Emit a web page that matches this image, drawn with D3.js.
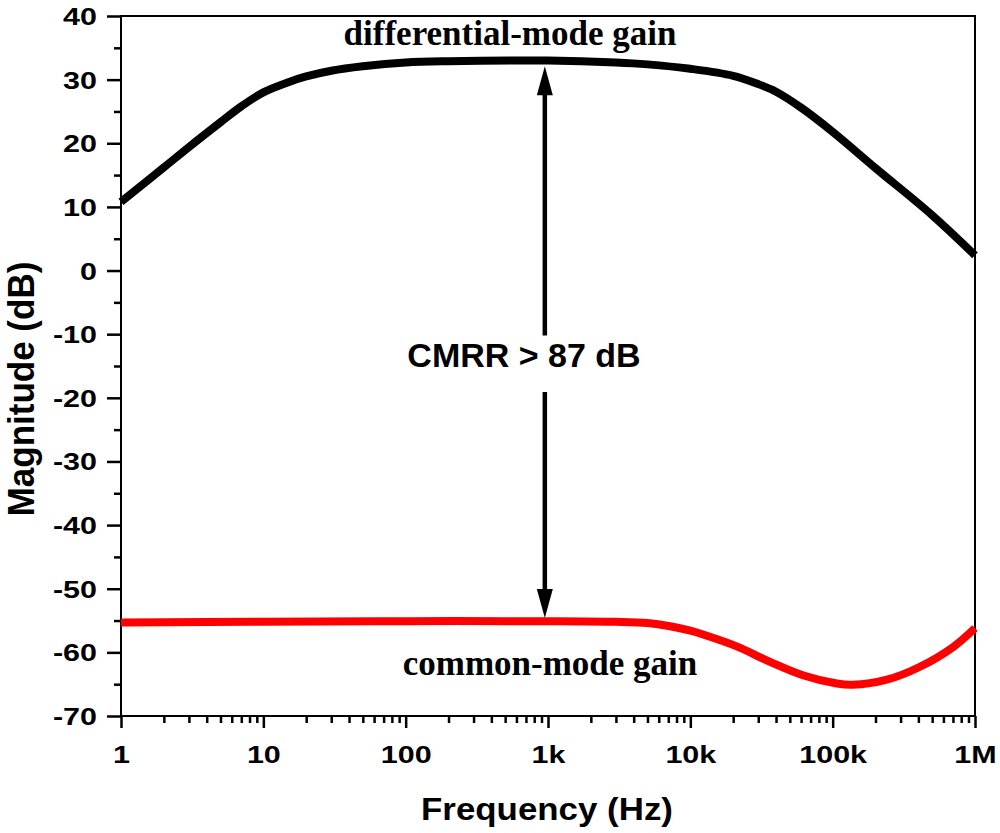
<!DOCTYPE html>
<html>
<head>
<meta charset="utf-8">
<script src="https://cdn.jsdelivr.net/npm/d3@7"></script>
<style>
  body { margin: 0; background: #fff; }
  svg { display: block; }
  .tick line { stroke: #000; stroke-width: 2.5; }
  .lbl { font-family: "Liberation Sans", Arial, sans-serif; font-weight: bold; fill: #000; }
  .note { font-family: "Liberation Serif", "Times New Roman", serif; font-weight: bold; fill: #000; }
</style>
</head>
<body>
<div id="chart"></div>
<script>
// -------------------------------
// Data
// -------------------------------
const diffFreq = [1, 2, 3, 5, 7, 10, 15, 20, 30, 50, 100, 200, 1000, 3000, 5000, 10000, 20000, 30000, 40000, 60000, 100000, 200000, 500000, 1000000];
const diffGain = [10.8, 16.2, 19.4, 23.3, 25.8, 28.0, 29.6, 30.5, 31.4, 32.1, 32.7, 32.9, 33.0, 32.7, 32.4, 31.7, 30.6, 29.3, 28.1, 25.6, 21.8, 16.1, 8.7, 2.4];

const cmFreq = [1, 10, 100, 1000, 3000, 5000, 7200, 10000, 12300, 21400, 36300, 61700, 107000, 138000, 240000, 407000, 708000, 1000000];
const cmGain = [-55.3, -55.2, -55.1, -55.1, -55.2, -55.4, -55.9, -56.6, -57.2, -59.1, -61.5, -63.6, -64.9, -65.1, -64.3, -62.3, -59.1, -56.2];

const xMajor = [1, 10, 100, 1000, 10000, 100000, 1000000];
const xMajorLabels = ["1", "10", "100", "1k", "10k", "100k", "1M"];
const yMajor = [40, 30, 20, 10, 0, -10, -20, -30, -40, -50, -60, -70];
const yMinor = [35, 25, 15, 5, -5, -15, -25, -35, -45, -55, -65];

// CMRR arrow: frequency, tip values and the gap around the label
const arrowFreq = 950;
const arrowTop = 32.1, arrowBottom = -54.6;
const gapTop = -10.2, gapBottom = -19.1;

// -------------------------------
// Setup
// -------------------------------
const W = 1000, H = 833;
const margin = { top: 16, right: 25, bottom: 117, left: 121 };
const width = W - margin.left - margin.right;
const height = H - margin.top - margin.bottom;

const svg = d3.select("#chart").append("svg")
    .attr("width", W)
    .attr("height", H);
const g = svg.append("g")
    .attr("transform", `translate(${margin.left},${margin.top})`);

const x = d3.scaleLog().domain([1, 1e6]).range([0, width]);
const y = d3.scaleLinear().domain([-70, 40]).range([height, 0]);

// minor x ticks 2..9 per decade
const xMinor = [];
for (let d = 1; d < 1e6; d *= 10) {
  for (let k = 2; k <= 9; k++) xMinor.push(d * k);
}

// -------------------------------
// Axes
// -------------------------------
g.append("g")
    .attr("transform", `translate(0,${height})`)
    .call(d3.axisBottom(x).tickValues(xMinor).tickSize(7).tickFormat(""))
    .call(a => a.select(".domain").remove());

const xAx = g.append("g")
    .attr("transform", `translate(0,${height})`)
    .call(d3.axisBottom(x).tickValues(xMajor).tickSize(12)
      .tickFormat((d, i) => xMajorLabels[i]));
xAx.select(".domain").remove();
xAx.selectAll("text")
    .attr("class", "lbl")
    .attr("font-size", 24)
    .attr("x", 0).attr("y", 0).attr("dy", null)
    .attr("transform", "translate(0,47) scale(1.27,1)");

g.append("g")
    .call(d3.axisLeft(y).tickValues(yMinor).tickSize(7).tickFormat(""))
    .call(a => a.select(".domain").remove());

// plain hyphen for negatives, as in the reference
const yAx = g.append("g")
    .call(d3.axisLeft(y).tickValues(yMajor).tickSize(14).tickFormat(d => String(d)));
yAx.select(".domain").remove();
yAx.selectAll("text")
    .attr("class", "lbl")
    .attr("font-size", 24)
    .attr("x", 0).attr("y", 0).attr("dy", null)
    .attr("transform", "translate(-24,8.5) scale(1.27,1)");

// frame
g.append("rect")
    .attr("width", width)
    .attr("height", height)
    .attr("fill", "none")
    .attr("stroke", "#000")
    .attr("stroke-width", 2);

// -------------------------------
// Curves
// -------------------------------
const line = d3.line()
    .x(d => x(d[0]))
    .y(d => y(d[1]))
    .curve(d3.curveCatmullRom.alpha(0.5));

g.append("path")
    .datum(cmFreq.map((f, i) => [f, cmGain[i]]))
    .attr("d", line)
    .attr("fill", "none")
    .attr("stroke", "#ff0000")
    .attr("stroke-width", 8);

g.append("path")
    .datum(diffFreq.map((f, i) => [f, diffGain[i]]))
    .attr("d", line)
    .attr("fill", "none")
    .attr("stroke", "#000")
    .attr("stroke-width", 8);

// -------------------------------
// CMRR arrow
// -------------------------------
const ax = x(arrowFreq);
const headLen = 29, headW = 8;

g.append("line")
    .attr("x1", ax).attr("x2", ax)
    .attr("y1", y(arrowTop) + headLen - 2).attr("y2", y(gapTop))
    .attr("stroke", "#000").attr("stroke-width", 4.5);
g.append("line")
    .attr("x1", ax).attr("x2", ax)
    .attr("y1", y(gapBottom)).attr("y2", y(arrowBottom) - headLen + 2)
    .attr("stroke", "#000").attr("stroke-width", 4.5);

g.append("path")
    .attr("d", `M${ax},${y(arrowTop)} L${ax - headW},${y(arrowTop) + headLen} L${ax + headW},${y(arrowTop) + headLen} Z`)
    .attr("fill", "#000");
g.append("path")
    .attr("d", `M${ax},${y(arrowBottom)} L${ax - headW},${y(arrowBottom) - headLen} L${ax + headW},${y(arrowBottom) - headLen} Z`)
    .attr("fill", "#000");

// -------------------------------
// Texts
// -------------------------------
svg.append("text")
    .attr("class", "lbl")
    .attr("font-size", 34)
    .attr("text-anchor", "middle")
    .attr("x", 524).attr("y", 367)
    .text("CMRR > 87 dB");

svg.append("text")
    .attr("class", "note")
    .attr("font-size", 35)
    .attr("text-anchor", "middle")
    .attr("x", 510).attr("y", 45)
    .text("differential-mode gain");

svg.append("text")
    .attr("class", "note")
    .attr("font-size", 35)
    .attr("text-anchor", "middle")
    .attr("x", 550).attr("y", 675)
    .text("common-mode gain");

svg.append("text")
    .attr("class", "lbl")
    .attr("font-size", 32)
    .attr("text-anchor", "middle")
    .attr("transform", "translate(547,820) scale(1.09,1)")
    .text("Frequency (Hz)");

svg.append("text")
    .attr("class", "lbl")
    .attr("font-size", 35)
    .attr("text-anchor", "middle")
    .attr("transform", "translate(34,389) scale(1.05,1) rotate(-90)")
    .text("Magnitude (dB)");
</script>
</body>
</html>
